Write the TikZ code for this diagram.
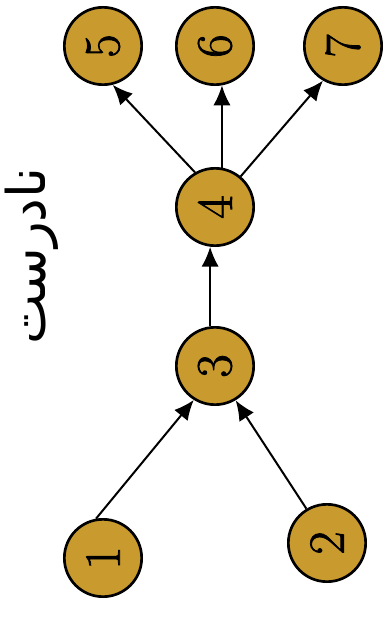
\documentclass[tikz,border=0pt]{standalone}
\usepackage{fontspec}
\newfontfamily\digitfont[FakeBold=1.5]{Latin Modern Roman}
\newfontfamily\arabicfont[Script=Arabic]{DejaVu Sans}
\TeXXeTstate=1
\usetikzlibrary{arrows.meta,positioning}
\definecolor{nodegold}{RGB}{201,154,46}
\newcommand{\vnum}[1]{\rotatebox{90}{\digitfont\fontsize{38}{38}\selectfont #1}}

\begin{document}
\begin{tikzpicture}[
    x=0.75pt, y=-0.75pt,
    circ/.style={circle, draw, line width=2pt, fill=nodegold, minimum size=58pt, inner sep=0pt},
    arrow/.style={-{Latex[length=15pt, width=13pt]}, line width=1.5pt}
]
    \useasboundingbox (0,0) rectangle (384,617);

    % Sources
    \node[circ] (n1) at (103,558) {\vnum{1}};
    \node[circ] (n2) at (327,543) {\vnum{2}};

    % Middle chain
    \node[circ] (n3) at (215,366) {\vnum{3}};
    \node[circ] (n4) at (215,207) {\vnum{4}};

    % Sinks
    \node[circ] (n5) at (103,46) {\vnum{5}};
    \node[circ] (n6) at (215,46) {\vnum{6}};
    \node[circ] (n7) at (343,46) {\vnum{7}};

    % Caption
    \node[rotate=90, font=\fontsize{40}{40}\selectfont] (caption) at (32,256) {\arabicfont\beginR نادرست\endR};

    % Arrows
    \draw[arrow] (n1.100) -- (n3.238);
    \draw[arrow] (n2.121) -- (n3.301);
    \draw[arrow] (n3.97) -- (n4.263);
    \draw[arrow] (n4.120) -- (n5.284);
    \draw[arrow] (n4.80) -- (n6.280);
    \draw[arrow] (n4.50) -- (n7.240);
\end{tikzpicture}
\end{document}
